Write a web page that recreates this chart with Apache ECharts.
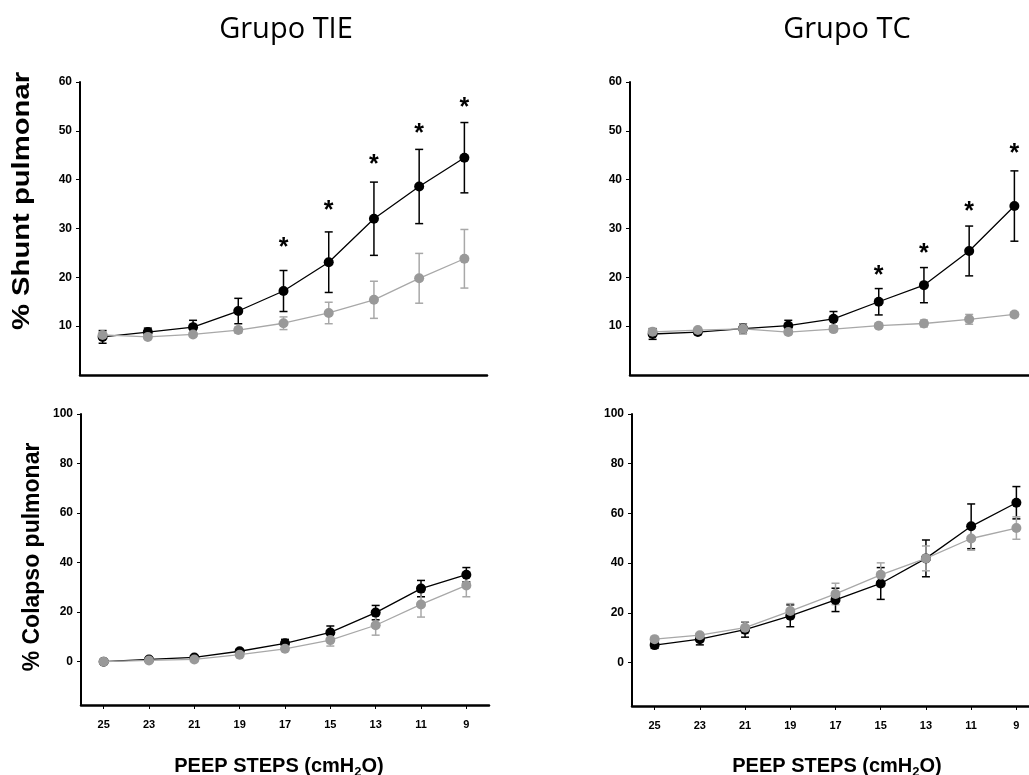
<!DOCTYPE html>
<html><head><meta charset="utf-8">
<script src="https://cdn.jsdelivr.net/npm/echarts@6/dist/echarts.min.js"></script>
<style>html,body{margin:0;padding:0;background:#fff}#c{width:1029px;height:775px}</style>
</head><body><div id="c"></div>
<script>
// ---- data ----
const categories = ['25','23','21','19','17','15','13','11','9'];
const shuntTicks = [10,20,30,40,50,60];
const colapsoTicks = [0,20,40,60,80,100];

const tieShuntBlack    = [7.8, 8.8, 9.8, 13.1, 17.2, 23.1, 32.0, 38.6, 44.5];
const tieShuntBlackErr = [1.3, 0.8, 1.4, 2.6, 4.2, 6.2, 7.5, 7.6, 7.2];
const tieShuntGray     = [8.2, 7.8, 8.3, 9.2, 10.6, 12.7, 15.4, 19.8, 23.8];
const tieShuntGrayErr  = [0.6, 0.4, 0.4, 0.6, 1.3, 2.2, 3.8, 5.1, 6.0];
const tieShuntStars    = [null, null, null, null, 27.2, 34.7, 44.2, 50.6, 55.8];

const tcShuntBlack     = [8.4, 8.8, 9.5, 10.1, 11.5, 15.0, 18.4, 25.4, 34.6];
const tcShuntBlackErr  = [1.1, 0.5, 1.0, 1.1, 1.5, 2.7, 3.6, 5.1, 7.2];
const tcShuntGray      = [8.85, 9.2, 9.45, 8.8, 9.4, 10.1, 10.55, 11.4, 12.4];
const tcShuntGrayErr   = [0.4, 0.4, 1.0, 0.5, 0.5, 0.5, 0.7, 1.0, 0.5];
const tcShuntStars     = [null, null, null, null, null, 21.4, 25.9, 34.6, 46.5];

const tieColBlack      = [0, 0.9, 1.7, 4.2, 7.4, 11.8, 19.8, 29.5, 35.1];
const tieColBlackErr   = [0.3, 0.5, 0.6, 0.8, 1.6, 2.6, 2.9, 3.3, 2.9];
const tieColGray       = [0, 0.5, 0.9, 2.8, 5.2, 8.7, 14.7, 23.1, 30.8];
const tieColGrayErr    = [0.2, 0.4, 0.5, 0.6, 0.8, 2.4, 4.0, 5.1, 4.6];

const tcColBlack       = [7.0, 9.4, 13.2, 18.8, 25.2, 31.8, 41.9, 54.8, 64.3];
const tcColBlackErr    = [1.3, 2.3, 3.0, 4.4, 4.7, 6.4, 7.4, 9.0, 6.5];
const tcColGray        = [9.4, 11.0, 14.0, 20.7, 27.6, 35.3, 41.9, 49.9, 54.1];
const tcColGrayErr     = [0.6, 0.6, 2.3, 3.0, 4.3, 4.8, 5.0, 4.7, 4.5];

// ---- styling ----
const BLACK = '#000';
const GRAY_M = '#999999';
const GRAY_L = '#a8a8a8';
const AX_FONT = '"Liberation Sans", Arial, sans-serif';

const chart = echarts.init(document.getElementById('c'), null, {renderer: 'canvas'});

const grids = [
  {left: 80, top: 82, width: 407, height: 293},
  {left: 630, top: 82, width: 407, height: 293},
  {left: 81, top: 414, width: 408, height: 291},
  {left: 632, top: 414, width: 407, height: 292}
].map(g => Object.assign({outerBoundsMode: 'none', containLabel: false}, g));

function xAx(i, showLabels) {
  return {
    type: 'category', gridIndex: i, data: categories, boundaryGap: true,
    axisLine: {show: true, onZero: false, lineStyle: {color: '#000', width: 2.5}},
    axisTick: {show: showLabels, alignWithLabel: true, length: 4, lineStyle: {color: '#000', width: 1}},
    axisLabel: {show: showLabels, margin: 14, fontFamily: AX_FONT, fontWeight: 'bold', fontSize: 11, color: '#000'},
    splitLine: {show: false}
  };
}
function yAx(i, min, max, ticks) {
  return {
    type: 'value', gridIndex: i, min: min, max: max,
    axisLine: {show: true, onZero: false, lineStyle: {color: '#000', width: 2}},
    axisTick: {show: true, length: 4, customValues: ticks, lineStyle: {color: '#000', width: 1}},
    axisLabel: {show: true, customValues: ticks, margin: 8, fontFamily: AX_FONT, fontWeight: 'bold', fontSize: 12, color: '#000'},
    splitLine: {show: false}
  };
}

function errData(vals, errs) {
  return vals.map((v, i) => [i, v - errs[i], v + errs[i]]);
}
function errSeries(gi, vals, errs, color, z) {
  return {
    type: 'custom', xAxisIndex: gi, yAxisIndex: gi, z: z, silent: true,
    data: errData(vals, errs),
    encode: {x: 0, y: [1, 2]},
    renderItem: function (params, api) {
      const x = api.value(0);
      const pHi = api.coord([x, api.value(2)]);
      const pLo = api.coord([x, api.value(1)]);
      const hw = 4;
      const st = {stroke: color, lineWidth: 1.5};
      return {type: 'group', children: [
        {type: 'line', shape: {x1: pHi[0], y1: pHi[1], x2: pLo[0], y2: pLo[1]}, style: st},
        {type: 'line', shape: {x1: pHi[0] - hw, y1: pHi[1], x2: pHi[0] + hw, y2: pHi[1]}, style: st},
        {type: 'line', shape: {x1: pLo[0] - hw, y1: pLo[1], x2: pLo[0] + hw, y2: pLo[1]}, style: st}
      ]};
    }
  };
}
function lineSeries(gi, vals, markerColor, lineColor, z) {
  return {
    type: 'line', xAxisIndex: gi, yAxisIndex: gi, z: z, silent: true,
    data: vals, symbol: 'circle', symbolSize: 10, showSymbol: true,
    lineStyle: {color: lineColor, width: 1.3},
    itemStyle: {color: markerColor, borderWidth: 0},
    animation: false
  };
}
function starSeries(gi, stars) {
  const d = [];
  stars.forEach((v, i) => { if (v != null) d.push([i, v]); });
  return {
    type: 'custom', xAxisIndex: gi, yAxisIndex: gi, z: 10, silent: true,
    data: d, encode: {x: 0, y: 1},
    renderItem: function (params, api) {
      const p = api.coord([api.value(0), api.value(1)]);
      return {type: 'text', x: p[0], y: p[1] + 6,
        style: {text: '*', fontSize: 25, fontWeight: 'bold', fontFamily: AX_FONT, fill: '#000',
                align: 'center', verticalAlign: 'middle'}};
    }
  };
}

const series = [
  errSeries(0, tieShuntBlack, tieShuntBlackErr, BLACK, 2),
  errSeries(0, tieShuntGray, tieShuntGrayErr, GRAY_L, 3),
  lineSeries(0, tieShuntBlack, BLACK, BLACK, 4),
  lineSeries(0, tieShuntGray, GRAY_M, GRAY_L, 5),
  starSeries(0, tieShuntStars),

  errSeries(1, tcShuntBlack, tcShuntBlackErr, BLACK, 2),
  errSeries(1, tcShuntGray, tcShuntGrayErr, GRAY_L, 3),
  lineSeries(1, tcShuntBlack, BLACK, BLACK, 4),
  lineSeries(1, tcShuntGray, GRAY_M, GRAY_L, 5),
  starSeries(1, tcShuntStars),

  errSeries(2, tieColBlack, tieColBlackErr, BLACK, 2),
  errSeries(2, tieColGray, tieColGrayErr, GRAY_L, 3),
  lineSeries(2, tieColBlack, BLACK, BLACK, 4),
  lineSeries(2, tieColGray, GRAY_M, GRAY_L, 5),

  errSeries(3, tcColBlack, tcColBlackErr, BLACK, 2),
  errSeries(3, tcColGray, tcColGrayErr, GRAY_L, 3),
  lineSeries(3, tcColBlack, BLACK, BLACK, 4),
  lineSeries(3, tcColGray, GRAY_M, GRAY_L, 5)
];

const peepRich = {
  a: {fontFamily: AX_FONT, fontWeight: 'bold', fontSize: 20, fill: '#000', color: '#000'},
  s: {fontFamily: AX_FONT, fontWeight: 'bold', fontSize: 13, fill: '#000', color: '#000', padding: [12, 0, 0, 0]}
};

const graphic = [
  {type: 'text', x: 286, y: 30, style: {text: 'Grupo TIE', fontFamily: '"Open Sans", sans-serif', fontSize: 29, fill: '#000', align: 'center', verticalAlign: 'middle'}},
  {type: 'text', x: 847, y: 30, style: {text: 'Grupo TC', fontFamily: '"Open Sans", sans-serif', fontSize: 29, fill: '#000', align: 'center', verticalAlign: 'middle'}},
  {type: 'text', x: 23, y: 201, rotation: Math.PI / 2, scaleX: 1.27,
   style: {text: '% Shunt pulmonar', fontFamily: AX_FONT, fontWeight: 'bold', fontSize: 23, fill: '#000', align: 'center', verticalAlign: 'middle'}},
  {type: 'text', x: 33, y: 557, rotation: Math.PI / 2,
   style: {text: '% Colapso pulmonar', fontFamily: AX_FONT, fontWeight: 'bold', fontSize: 23, fill: '#000', align: 'center', verticalAlign: 'middle'}},
  {type: 'text', x: 279, y: 766, style: {text: '{a|PEEP STEPS (cmH}{s|2}{a|O)}', rich: peepRich, align: 'center', verticalAlign: 'middle'}},
  {type: 'text', x: 837, y: 766, style: {text: '{a|PEEP STEPS (cmH}{s|2}{a|O)}', rich: peepRich, align: 'center', verticalAlign: 'middle'}}
];

chart.setOption({
  backgroundColor: '#fff',
  animation: false,
  grid: grids,
  xAxis: [xAx(0, false), xAx(1, false), xAx(2, true), xAx(3, true)],
  yAxis: [yAx(0, 0, 60, shuntTicks), yAx(1, 0, 60, shuntTicks), yAx(2, -17.5, 100, colapsoTicks), yAx(3, -17.5, 100, colapsoTicks)],
  series: series,
  graphic: graphic
});
</script>
</body></html>
